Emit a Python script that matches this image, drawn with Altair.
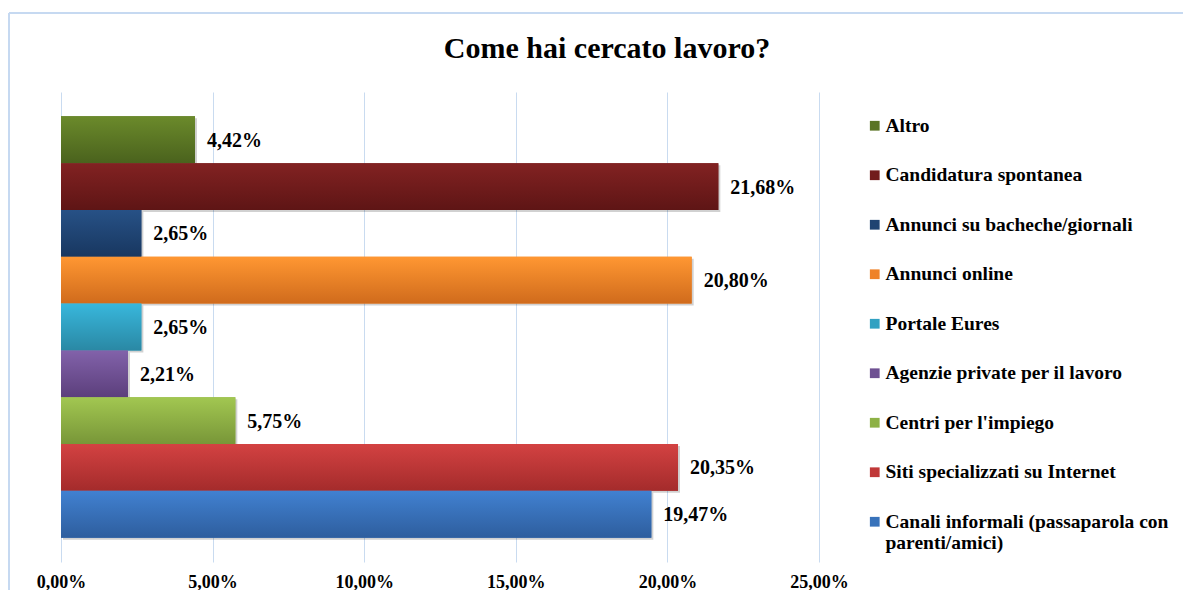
import altair as alt
import pandas as pd

categories = [
    "Altro",
    "Candidatura spontanea",
    "Annunci su bacheche/giornali",
    "Annunci online",
    "Portale Eures",
    "Agenzie private per il lavoro",
    "Centri per l'impiego",
    "Siti specializzati su Internet",
    "Canali informali (passaparola con parenti/amici)",
]
values = [4.42, 21.68, 2.65, 20.80, 2.65, 2.21, 5.75, 20.35, 19.47]
top_colors = ["#6b8a2b", "#822222", "#275186", "#ff9732", "#38b7dc", "#8262aa", "#a2c751", "#d34242", "#4181d1"]
bottom_colors = ["#4a621d", "#5e1515", "#183760", "#d06b1c", "#2a88a4", "#5c3f7c", "#789638", "#a42b2b", "#2e5e9e"]
mid_colors = ["#5a7424", "#721c1c", "#1f4472", "#ef8227", "#31a1c2", "#6e5092", "#8db145", "#c03838", "#3872ba"]
tick_values = [0, 5, 10, 15, 20, 25]
title_text = "Come hai cercato lavoro?"

FONT = "Liberation Serif"
GRID = "#c9dbf0"

df = pd.DataFrame({"cat": categories, "v": values})

x_enc = alt.X("v:Q", scale=alt.Scale(domain=[0, 25], nice=False),
              axis=alt.Axis(values=tick_values, title=None, grid=True, gridColor=GRID,
                            gridWidth=1, domain=False, ticks=False, labelPadding=11,
                            labelFlush=False,
                            labelFont=FONT, labelFontSize=18, labelFontWeight="bold",
                            labelColor="#000000",
                            labelExpr="replace(format(datum.value, '.2f'), '.', ',') + '%'"))
y_enc = alt.Y("cat:N", scale=alt.Scale(domain=categories, paddingInner=0, paddingOuter=0.52),
              axis=None)

base = alt.Chart(df)

shadow = base.mark_bar(color="#000000", opacity=0.18, xOffset=2, yOffset=2).encode(x=x_enc, y=y_enc)

legend_layer = base.mark_bar().encode(
    x=x_enc, y=y_enc,
    color=alt.Color("cat:N", scale=alt.Scale(domain=categories, range=mid_colors),
                    legend=alt.Legend(
                        title=None, orient="none", legendX=804, legendY=24,
                        symbolType="square", symbolSize=95, symbolStrokeWidth=0,
                        labelFont=FONT, labelFontSize=19.5, labelFontWeight="bold",
                        labelColor="#000000", labelLimit=400, labelOffset=1,
                        rowPadding=28.5, padding=0,
                        labelExpr="datum.label == 'Canali informali (passaparola con parenti/amici)' ? ['Canali informali (passaparola con', 'parenti/amici)'] : datum.label",
                    )),
)

grad_layers = []
for c, t, b in zip(categories, top_colors, bottom_colors):
    g = alt.Gradient(gradient="linear",
                     stops=[alt.GradientStop(color=t, offset=0), alt.GradientStop(color=b, offset=1)],
                     x1=0, x2=0, y1=0, y2=1)
    grad_layers.append(base.transform_filter(alt.datum.cat == c).mark_bar(color=g).encode(x=x_enc, y=y_enc))

labels = base.transform_calculate(
    lab="replace(format(datum.v, '.2f'), '.', ',') + '%'"
).mark_text(align="left", baseline="middle", dx=12, dy=1, font=FONT, fontSize=20,
            fontWeight="bold", color="#000000").encode(x=x_enc, y=y_enc, text="lab:N")

one = pd.DataFrame({"t": [title_text]})
title_mark = alt.Chart(one).mark_text(font=FONT, fontSize=30, fontWeight="bold", color="#000000",
                                      align="center", baseline="middle").encode(
    x=alt.value(546), y=alt.value(-43), text="t:N")

border_top = alt.Chart(one).mark_rule(color="#c6d9f1", strokeWidth=2).encode(
    x=alt.value(-52), x2=alt.value(1200), y=alt.value(-79))
border_left = alt.Chart(one).mark_rule(color="#c6d9f1", strokeWidth=2).encode(
    x=alt.value(-52), y=alt.value(-79), y2=alt.value(600))

chart = alt.layer(border_top, border_left, shadow, legend_layer, *grad_layers, labels, title_mark).properties(
    width=758, height=470,
    autosize=alt.AutoSizeParams(type="none"),
    padding={"left": 53, "top": 84, "right": 364, "bottom": 28},
).configure_view(stroke=None)

chart.save("out.html", embed_options={"renderer": "svg", "actions": False})
